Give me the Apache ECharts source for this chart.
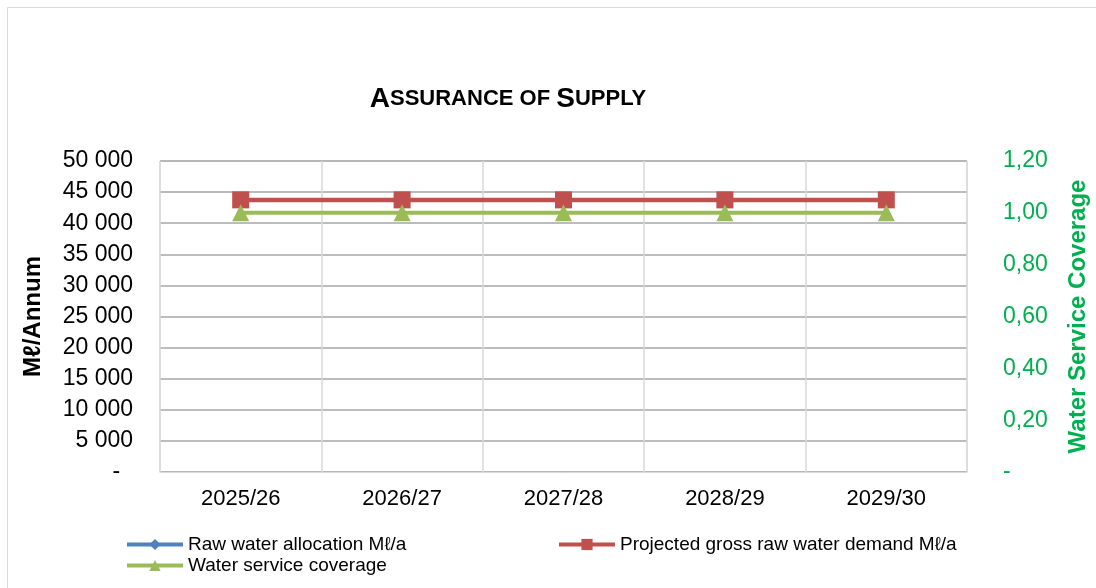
<!DOCTYPE html>
<html>
<head>
<meta charset="utf-8">
<script src="https://cdn.jsdelivr.net/npm/echarts@6/dist/echarts.min.js"></script>
<style>
  html, body { margin: 0; padding: 0; background: #fff; }
  #chart { width: 1096px; height: 588px; }
</style>
</head>
<body>
<div id="chart"></div>
<script>
// 数据
const years = ['2025/26', '2026/27', '2027/28', '2028/29', '2029/30']
const rawAllocation = [43750, 43750, 43750, 43750, 43750]
const grossDemand = [43750, 43750, 43750, 43750, 43750]
const coverage = [1.0, 1.0, 1.0, 1.0, 1.0]

const FONT = '"Liberation Sans", Arial, sans-serif'

// 千位空格分隔，0 显示为 "-"（会计格式，右侧留空）
const fmtLeft = v => v === 0 ? '-  ' : String(v).replace(/\B(?=(\d{3})+(?!\d))/g, ' ')
const fmtRight = v => v === 0 ? '-' : v.toFixed(2).replace('.', ',')

const chart = echarts.init(document.getElementById('chart'))

chart.setOption({
  animation: false,
  textStyle: { fontFamily: FONT },
  graphic: [
    {
      type: 'rect',
      shape: { x: 7.5, y: 7.5, width: 1100, height: 600 },
      style: { fill: 'none', stroke: '#d9d9d9', lineWidth: 1 }
    }
  ],
  title: {
    text: '{b|A}{s|SSURANCE OF }{b|S}{s|UPPLY}',
    left: 503,
    top: 80,
    textAlign: 'center',
    textStyle: {
      rich: {
        b: { fontSize: 28, fontWeight: 'bold', color: '#000', fontFamily: FONT },
        s: { fontSize: 22, fontWeight: 'bold', color: '#000', fontFamily: FONT }
      }
    }
  },
  legend: [
    {
      data: ['Raw water allocation Mℓ/a', 'Water service coverage'],
      orient: 'vertical',
      left: 120,
      top: 530,
      itemWidth: 56,
      itemHeight: 14,
      itemGap: 2,
      lineStyle: { width: 4 },
      textStyle: { fontSize: 19, color: '#000', fontFamily: FONT }
    },
    {
      data: ['Projected gross raw water demand Mℓ/a'],
      left: 552,
      top: 530,
      itemWidth: 56,
      itemHeight: 14,
      lineStyle: { width: 4 },
      textStyle: { fontSize: 19, color: '#000', fontFamily: FONT }
    }
  ],
  grid: {
    left: 160,
    right: 129,
    top: 161,
    bottom: 116,
    outerBoundsMode: 'none',
    show: true,
    borderColor: '#d9d9d9',
    borderWidth: 1
  },
  xAxis: {
    type: 'category',
    data: years,
    boundaryGap: true,
    axisLine: { lineStyle: { color: '#d9d9d9' } },
    axisTick: { show: false },
    axisLabel: { fontSize: 22, color: '#000', margin: 16, fontFamily: FONT },
    splitLine: { show: true, lineStyle: { color: '#d9d9d9', width: 1.5 } }
  },
  yAxis: [
    {
      type: 'value',
      min: 0,
      max: 50000,
      interval: 5000,
      name: 'Mℓ/Annum',
      nameLocation: 'middle',
      nameGap: 115,
      nameRotate: 90,
      nameTextStyle: { fontSize: 24, fontWeight: 'bold', color: '#000', fontFamily: FONT },
      axisLine: { show: false },
      axisTick: { show: false },
      axisLabel: { fontSize: 23, color: '#000', margin: 27, formatter: fmtLeft, fontFamily: FONT },
      splitLine: { lineStyle: { color: '#a6a6a6', width: 1.5 } }
    },
    {
      type: 'value',
      min: 0,
      max: 1.2,
      interval: 0.2,
      position: 'right',
      name: 'Water Service Coverage',
      nameLocation: 'middle',
      nameGap: 99,
      nameRotate: 90,
      nameTextStyle: { fontSize: 24, fontWeight: 'bold', color: '#00b050', fontFamily: FONT },
      axisLine: { show: false },
      axisTick: { show: false },
      axisLabel: { fontSize: 23, color: '#00b050', margin: 36, formatter: fmtRight, fontFamily: FONT },
      splitLine: { show: false }
    }
  ],
  series: [
    {
      name: 'Raw water allocation Mℓ/a',
      type: 'line',
      yAxisIndex: 0,
      data: rawAllocation,
      symbol: 'diamond',
      symbolSize: 14,
      lineStyle: { color: '#4f81bd', width: 4 },
      itemStyle: { color: '#4f81bd' }
    },
    {
      name: 'Projected gross raw water demand Mℓ/a',
      type: 'line',
      yAxisIndex: 0,
      data: grossDemand,
      symbol: 'rect',
      symbolSize: 17,
      lineStyle: { color: '#c0504d', width: 4.5 },
      itemStyle: { color: '#c0504d' }
    },
    {
      name: 'Water service coverage',
      type: 'line',
      yAxisIndex: 1,
      data: coverage,
      symbol: 'triangle',
      symbolSize: 17,
      lineStyle: { color: '#9bbb59', width: 4 },
      itemStyle: { color: '#9bbb59' }
    }
  ]
})
</script>
</body>
</html>
